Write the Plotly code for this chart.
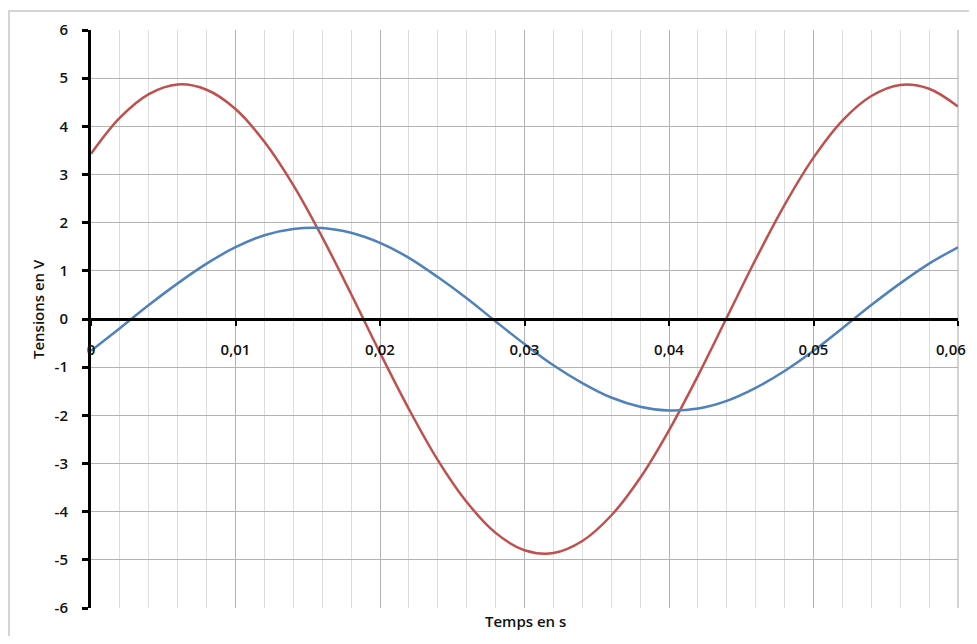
import plotly.graph_objects as go

# Time samples (s)
t = [round(i * 0.002, 3) for i in range(31)]

# Red curve values (V)
red_v = [3.43, 4.18, 4.67, 4.87, 4.76, 4.36, 3.68, 2.78, 1.70, 0.52,
         -0.70, -1.87, -2.93, -3.80, -4.44, -4.80, -4.86, -4.61, -4.08, -3.30,
         -2.31, -1.18, 0.03, 1.24, 2.37, 3.35, 4.12, 4.63, 4.86, 4.78, 4.41]

# Blue curve values (V)
blue_v = [-0.66, -0.19, 0.29, 0.74, 1.15, 1.49, 1.74, 1.87, 1.89, 1.79,
          1.58, 1.27, 0.87, 0.43, -0.05, -0.52, -0.96, -1.33, -1.63, -1.82,
          -1.90, -1.86, -1.70, -1.43, -1.08, -0.66, -0.19, 0.29, 0.74, 1.15, 1.49]

x_tickvals = [0, 0.01, 0.02, 0.03, 0.04, 0.05, 0.06]
x_ticktext = ["0", "0,01", "0,02", "0,03", "0,04", "0,05", "0,06"]
x_minor_vals = [round(i * 0.002, 3) for i in range(31)]
y_tickvals = list(range(-6, 7))
y_ticktext = [str(v) for v in y_tickvals]

# page is offset by the browser's 8px body margin
OFF = 8
W, H = 961, 628
L, T = 91 - OFF, 28 - OFF
R = W - (958 - OFF)
B = H - (608 - OFF)
pw, ph = W - L - R, H - T - B

def px_x(p):
    return (p - OFF - L) / pw

def px_y(p):
    return (H - B - (p - OFF)) / ph

font_fam = "Open Sans, sans-serif"
txt_col = "#111111"
fsize = 15
fweight = 600
tfont = dict(family=font_fam, size=fsize, color=txt_col, weight=fweight)

fig = go.Figure()
fig.add_trace(go.Scatter(x=t, y=red_v, mode="lines", line=dict(color="#C0504D", width=2.5, shape="spline"),
                         showlegend=False, hoverinfo="skip", xaxis="x", yaxis="y"))
fig.add_trace(go.Scatter(x=t, y=blue_v, mode="lines", line=dict(color="#4F81BD", width=2.5, shape="spline"),
                         showlegend=False, hoverinfo="skip", xaxis="x2", yaxis="y"))

# the last x label would be clipped at the figure edge; show it as an annotation
shown_xtext = x_ticktext[:-1] + [""]

fig.update_layout(
    width=W, height=H,
    margin=dict(l=L, r=R, t=T, b=B),
    paper_bgcolor="white", plot_bgcolor="white",
    font=tfont,
    # light minor grid every 0.002 s
    xaxis=dict(
        range=[0, 0.06],
        tickvals=x_minor_vals, showticklabels=False, ticks="",
        showline=False, zeroline=False,
        showgrid=True, gridcolor="#dcdcdc", gridwidth=1,
    ),
    # main x axis crossing at y = 0
    xaxis2=dict(
        range=[0, 0.06], overlaying="x", anchor="free", position=0.5,
        showline=True, linecolor="black", linewidth=3,
        ticks="outside", ticklen=5, tickwidth=2, tickcolor="black",
        tickvals=x_tickvals, ticktext=shown_xtext,
        ticklabelstandoff=11,
        showgrid=True, gridcolor="#b3b3b3", gridwidth=1,
        zeroline=False,
        tickfont=tfont,
    ),
    yaxis=dict(
        range=[-6, 6],
        showline=True, linecolor="black", linewidth=3,
        ticks="outside", ticklen=6, tickwidth=2.5, tickcolor="black",
        tickvals=y_tickvals, ticktext=y_ticktext,
        ticklabelstandoff=11,
        showgrid=True, gridcolor="#b3b3b3", gridwidth=1,
        zeroline=False,
        tickfont=tfont,
    ),
    annotations=[
        dict(text="Tensions en V", xref="paper", yref="paper", x=px_x(38), y=px_y(308),
             textangle=-90, showarrow=False, font=tfont,
             xanchor="center", yanchor="middle"),
        dict(text="Temps en s", xref="paper", yref="paper", x=px_x(525), y=px_y(621),
             showarrow=False, font=tfont,
             xanchor="center", yanchor="middle"),
        dict(text=x_ticktext[-1], xref="paper", yref="paper", x=(W - L - 1) / pw, y=px_y(348),
             showarrow=False, font=tfont,
             xanchor="right", yanchor="middle"),
    ],
    shapes=[
        dict(type="line", xref="paper", yref="paper", x0=-L / pw, x1=(W - L) / pw,
             y0=(H - B - 1) / ph, y1=(H - B - 1) / ph, line=dict(color="#d4d4d4", width=2)),
        dict(type="line", xref="paper", yref="paper", x0=(-L + 1) / pw, x1=(-L + 1) / pw,
             y0=(H - B) / ph, y1=-B / ph, line=dict(color="#d4d4d4", width=2)),
        dict(type="line", xref="paper", yref="paper", x0=1, x1=1, y0=0, y1=1,
             line=dict(color="#a8a8a8", width=1), layer="below"),
    ],
)

fig.write_html("out.html")
